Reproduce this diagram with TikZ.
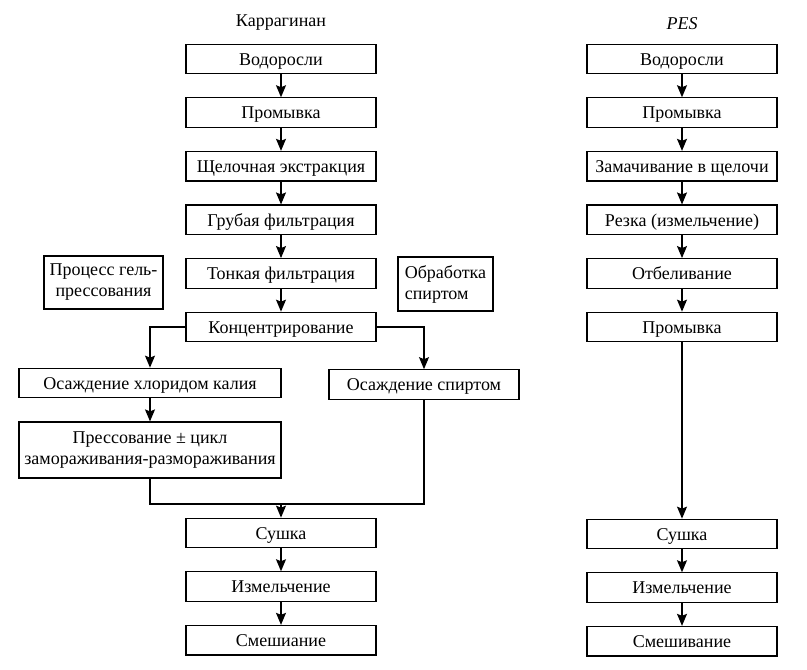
\documentclass[tikz,border=0pt]{standalone}
\usepackage{fontspec}
\setmainfont{Liberation Serif}
\usepackage{tikz}
\usetikzlibrary{arrows.meta,positioning}

\begin{document}
\begin{tikzpicture}[x=1pt,y=-1pt,node distance=53.6pt,on grid,
   font=\fontsize{18}{21}\selectfont,
   frame/.style={draw,line width=1.2pt,minimum width=190pt,inner sep=0pt},
   box/.style={frame,minimum height=29.5pt,text height=12.5pt,text depth=0pt},
   twoline/.style={frame,align=center,minimum height=56pt},
   >={Stealth[length=12pt,width=10pt,inset=2pt]},
   every edge/.style={draw,line width=1.2pt}]
   \useasboundingbox (0,0) rectangle (807,670);

   % Каррагинан
   \node (k_title) at (281,23) {Каррагинан};
   \node[box] (k_1) at (281,59) {Водоросли};
   \node[box] (k_2) [below =of k_1] {Промывка};
   \node[box] (k_3) [below =of k_2] {Щелочная экстракция};
   \node[box] (k_4) [below =of k_3] {Грубая фильтрация};
   \node[box] (k_5) [below =of k_4] {Тонкая фильтрация};
   \node[box] (k_6) [below =of k_5] {Концентрирование};
   \node[twoline,minimum width=119pt,minimum height=53pt] (k_gel) at (103.5,282.5) {Процесс гель-\\прессования};
   \node[twoline,align=left,minimum width=95pt,minimum height=54pt] (k_alc) at (445.5,284) {Обработка\\спиртом};
   \node[box,minimum width=262pt] (k_kcl) at (150,383) {Осаждение хлоридом калия};
   \node[box] (k_spirt) at (424,384.5) {Осаждение спиртом};
   \node[twoline,minimum width=262pt] (k_press) at (150,450) {Прессование ± цикл\\замораживания-размораживания};
   \coordinate (k_join) at (281,504);
   \node[box] (k_dry) at (281,533) {Сушка};
   \node[box] (k_mill) [below =of k_dry] {Измельчение};
   \node[box] (k_mix) [below =of k_mill] {Смешиание};

   % PES
   \node (p_title) at (682,24) {\itshape PES};
   \node[box] (p_1) at (682,59) {Водоросли};
   \node[box] (p_2) [below =of p_1] {Промывка};
   \node[box] (p_3) [below =of p_2] {Замачивание в щелочи};
   \node[box] (p_4) [below =of p_3] {Резка (измельчение)};
   \node[box] (p_5) [below =of p_4] {Отбеливание};
   \node[box] (p_6) [below =of p_5] {Промывка};
   \node[box] (p_dry) at (682,534) {Сушка};
   \node[box] (p_mill) [below =of p_dry] {Измельчение};
   \node[box] (p_mix) [below =of p_mill] {Смешивание};

   \path[->]
   (k_1) edge (k_2)
   (k_2) edge (k_3)
   (k_3) edge (k_4)
   (k_4) edge (k_5)
   (k_5) edge (k_6)
   (k_kcl) edge (k_press)
   (k_join) edge (k_dry)
   (k_dry) edge (k_mill)
   (k_mill) edge (k_mix)
   (p_1) edge (p_2)
   (p_2) edge (p_3)
   (p_3) edge (p_4)
   (p_4) edge (p_5)
   (p_5) edge (p_6)
   (p_6) edge (p_dry)
   (p_dry) edge (p_mill)
   (p_mill) edge (p_mix);

   \draw[->,line width=1.2pt] (k_6.west) -| (k_kcl);
   \draw[->,line width=1.2pt] (k_6.east) -| (k_spirt);
   \draw[line width=1.2pt] (k_press.south) |- (k_join) -| (k_spirt.south);
\end{tikzpicture}
\end{document}
